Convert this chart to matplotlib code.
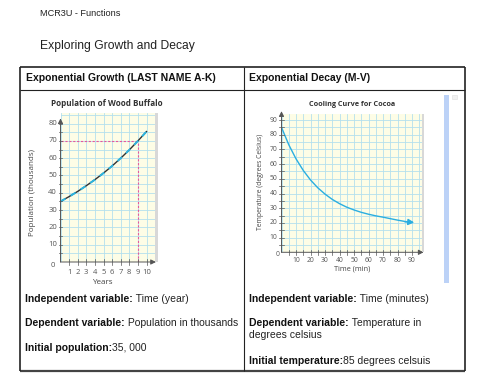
import matplotlib
matplotlib.use("Agg")
import matplotlib.pyplot as plt
from matplotlib.lines import Line2D
from matplotlib.patches import Rectangle

W, H = 480, 383

# ---------------- data ----------------
years = [0, 1, 2, 3, 4, 5, 6, 7, 8, 9, 10]
population = [35, 37.8, 40.8, 44.1, 47.6, 51.4, 55.5, 60.0, 64.8, 70.0, 75.4]
pop_yticks = [10, 20, 30, 40, 50, 60, 70, 80]
pop_xticks = [1, 2, 3, 4, 5, 6, 7, 8, 9, 10]
target_year, target_pop = 9, 70

minutes = [0, 5, 10, 15, 20, 25, 30, 35, 40, 45, 50, 55, 60, 65, 70, 75, 80, 85, 90]
temperature = [85, 73.2, 63.6, 55.7, 49.2, 43.9, 39.6, 36.0, 33.1, 30.7, 28.8,
               27.2, 25.9, 24.8, 23.9, 22.9, 21.9, 21.0, 20.3]
temp_yticks = [10, 20, 30, 40, 50, 60, 70, 80, 90]
temp_xticks = [10, 20, 30, 40, 50, 60, 70, 80, 90]

left_rows = [("Independent variable:", " Time (year)"),
             ("Dependent variable:", " Population in thousands"),
             ("Initial population:", "35, 000")]
right_rows = [("Independent variable:", " Time (minutes)"),
              ("Dependent variable:", " Temperature in"),
              ("", "degrees celsius"),
              ("Initial temperature:", "85 degrees celsuis")]

# ---------------- figure ----------------
fig = plt.figure(figsize=(W / 100, H / 100), dpi=100)
fig.patch.set_facecolor("white")

DOC = "Liberation Sans"
CH = ["Open Sans", "DejaVu Sans"]


def fx(x):
    return x / W


def fy(y):
    return 1 - y / H


def T(x, y, s, **kw):
    kw.setdefault("family", DOC)
    kw.setdefault("va", "center")
    return fig.text(fx(x), fy(y), s, **kw)


def L(x0, y0, x1, y1, lw=1.0, c="#222222"):
    fig.add_artist(Line2D([fx(x0), fx(x1)], [fy(y0), fy(y1)], lw=lw, color=c,
                          transform=fig.transFigure, solid_capstyle="butt"))


# header text
T(40, 13, "MCR3U - Functions", fontsize=6.6, color="#222222")
T(40, 46, "Exploring Growth and Decay", fontsize=8.7, color="#222222")

# table lines
L(20, 67, 465, 67, lw=1.2)
L(20, 90, 465, 90, lw=0.8)
L(20, 371, 465, 371, lw=1.6, c="#444444")
L(20, 67, 20, 371, lw=1.2)
L(465, 67, 465, 371, lw=1.2)
L(244, 67, 244, 371, lw=0.8)

FS = 7.5
T(26, 78, "Exponential Growth (LAST NAME A-K)", fontsize=FS, weight="bold", color="#111111")
T(249, 78, "Exponential Decay (M-V)", fontsize=FS, weight="bold", color="#111111")

renderer = fig.canvas.get_renderer()


def two_part(x, y, bold, normal, fs=FS):
    if bold:
        t = T(x, y, bold, fontsize=fs, weight="bold", color="#111111")
        bb = t.get_window_extent(renderer=renderer)
        x2 = bb.x1
    else:
        x2 = x
    T(x2, y, normal, fontsize=fs, color="#222222")


ys_left = [299, 323, 348]
for (b, n), y in zip(left_rows, ys_left):
    two_part(25, y, b, n)
ys_right = [299, 323, 335, 361]
for (b, n), y in zip(right_rows, ys_right):
    two_part(249, y, b, n)

# scrollbar-ish blue bar
fig.add_artist(Rectangle((fx(444), fy(283)), 5 / W, (283 - 95) / H,
                         transform=fig.transFigure, color="#bcd2f7", lw=0))
fig.add_artist(Rectangle((fx(452), fy(99)), 5 / W, 4 / H,
                         transform=fig.transFigure, facecolor="#f0f0f0",
                         edgecolor="#dddddd", lw=0.4))

GRID = "#b3e0ee"
BG = "#fdfde6"
AX = "#555555"
LBL = "#555555"


def setup_chart(ax, xmax, ymax, xstep, ystep):
    ax.set_facecolor(BG)
    ax.set_xlim(0, xmax)
    ax.set_ylim(0, ymax)
    for s in ax.spines.values():
        s.set_visible(False)
    ax.set_xticks([])
    ax.set_yticks([])
    x = 0
    while x <= xmax + 1e-9:
        ax.axvline(x, color=GRID, lw=0.6, zorder=1)
        x += xstep
    y = 0
    while y <= ymax + 1e-9:
        ax.axhline(y, color=GRID, lw=0.6, zorder=1)
        y += ystep


ARR = "-|>,head_length=0.3,head_width=0.15"

# ---------------- left chart ----------------
lx0, ly0, lxs, lys = 60.5, 262.0, 8.6, 1.73
lxmax, lymax = 11, 86
axL = fig.add_axes([fx(lx0), fy(ly0), lxmax * lxs / W, lymax * lys / H])
setup_chart(axL, lxmax, lymax, 1, 5)
fig.add_artist(Rectangle((fx(lx0 + lxmax * lxs), fy(ly0)), 3 / W, lymax * lys / H,
                         transform=fig.transFigure, color="#d8d8d8", lw=0))
axL.plot([0, target_year], [target_pop, target_pop], color="#e8579c", lw=0.8,
         ls=(0, (2, 1.5)), zorder=3)
axL.plot([target_year, target_year], [0, target_pop], color="#e8579c", lw=0.8,
         ls=(0, (2, 1.5)), zorder=3)
axL.plot(years, population, color="#333333", lw=1.0, zorder=4)
axL.plot(years, population, color="#2bb5e0", lw=1.4, ls=(0, (3, 3)), zorder=5)
axL.annotate("", xy=(0, 83), xytext=(0, 0), xycoords="data",
             arrowprops=dict(arrowstyle=ARR, lw=0.7, color=AX, shrinkA=0, shrinkB=0),
             annotation_clip=False, zorder=6)
axL.annotate("", xy=(11.1, 0), xytext=(0, 0), xycoords="data",
             arrowprops=dict(arrowstyle=ARR, lw=0.7, color=AX, shrinkA=0, shrinkB=0),
             annotation_clip=False, zorder=6)
for v in range(5, 81, 5):
    axL.plot([-0.18, 0.18], [v, v], color=AX, lw=0.5, clip_on=False, zorder=6)
for v in pop_xticks:
    axL.plot([v, v], [-1.5, 1.5], color=AX, lw=0.5, clip_on=False, zorder=6)
for v in pop_yticks:
    axL.text(-0.4, v, str(v), ha="right", va="center", fontsize=5.5,
             color=LBL, family=CH)
for v in pop_xticks:
    axL.text(v, -4.0, str(v), ha="center", va="top", fontsize=5.5,
             color=LBL, family=CH)
axL.text(-0.9, -2.0, "0", ha="center", va="center", fontsize=5.5, color=LBL, family=CH)
T(107, 104, "Population of Wood Buffalo", ha="center", fontsize=5.9,
  weight="bold", family=CH, color="#333333")
T(33, 193, "Population (thousands)", ha="center", rotation=90, fontsize=5.8,
  family=CH, color="#444444")
T(102, 282, "Years", ha="center", fontsize=5.8, family=CH, color="#444444")

# ---------------- right chart ----------------
rx0, ry0, rxs, rys = 281.5, 252.3, 1.45, 1.47
rxmax, rymax = 97, 94
axR = fig.add_axes([fx(rx0), fy(ry0), rxmax * rxs / W, rymax * rys / H])
setup_chart(axR, rxmax, rymax, 5, 5)
fig.add_artist(Rectangle((fx(rx0 + rxmax * rxs), fy(ry0)), 2 / W, rymax * rys / H,
                         transform=fig.transFigure, color="#d8d8d8", lw=0))
axR.plot(minutes, temperature, color="#2aaee0", lw=1.0, zorder=5)
axR.annotate("", xy=(minutes[-1] + 1.5, temperature[-1]),
             xytext=(minutes[-2], temperature[-2] - 0.2), xycoords="data",
             arrowprops=dict(arrowstyle="-|>,head_length=0.35,head_width=0.18",
                             lw=1.0, color="#2aaee0", shrinkA=0, shrinkB=0),
             annotation_clip=False, zorder=6)
axR.annotate("", xy=(0, 96), xytext=(0, 0), xycoords="data",
             arrowprops=dict(arrowstyle=ARR, lw=0.7, color=AX, shrinkA=0, shrinkB=0),
             annotation_clip=False, zorder=6)
axR.annotate("", xy=(98, 0), xytext=(0, 0), xycoords="data",
             arrowprops=dict(arrowstyle=ARR, lw=0.7, color=AX, shrinkA=0, shrinkB=0),
             annotation_clip=False, zorder=6)
for v in range(5, 91, 5):
    axR.plot([-1.5, 1.5], [v, v], color=AX, lw=0.5, clip_on=False, zorder=6)
for v in range(5, 91, 5):
    axR.plot([v, v], [-1.5, 1.5], color=AX, lw=0.5, clip_on=False, zorder=6)
for v in temp_yticks:
    axR.text(-3.0, v, str(v), ha="right", va="center", fontsize=4.9,
             color=LBL, family=CH)
for v in temp_xticks:
    axR.text(v, -3.0, str(v), ha="center", va="top", fontsize=4.9,
             color=LBL, family=CH)
axR.text(-2.8, -1.2, "0", ha="center", va="center", fontsize=4.9, color=LBL, family=CH)
T(352, 104, "Cooling Curve for Cocoa", ha="center", fontsize=5.2,
  weight="bold", family=CH, color="#333333")
T(260, 182, "Temperature (degrees Celsius)", ha="center", rotation=90, fontsize=4.9,
  family=CH, color="#444444")
T(352, 269, "Time (min)", ha="center", fontsize=5.2, family=CH, color="#444444")

fig.savefig("out.png", dpi=100)
